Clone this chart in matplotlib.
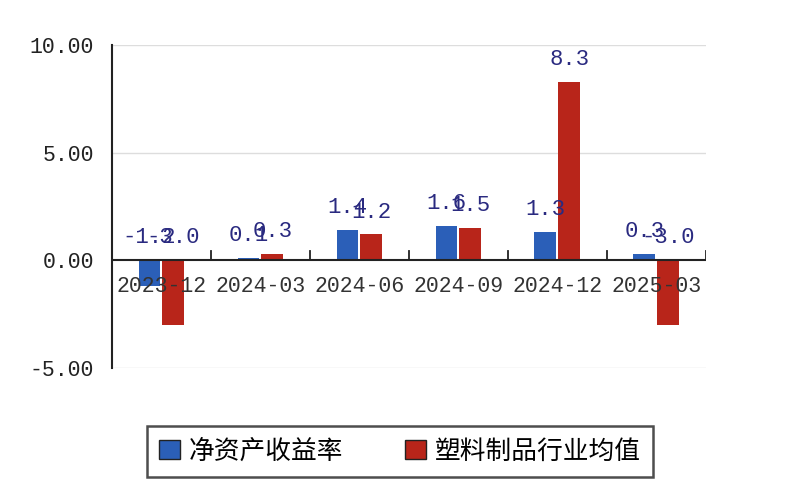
import numpy as np
import matplotlib.pyplot as plt
from matplotlib.patches import Patch

plt.rcParams['font.family'] = ['Noto Sans CJK SC', 'DejaVu Sans']

periods = ["2023-12", "2024-03", "2024-06", "2024-09", "2024-12", "2025-03"]
roe = [-1.2, 0.1, 1.4, 1.6, 1.3, 0.3]
industry_avg = [-3.0, 0.3, 1.2, 1.5, 8.3, -3.0]
series_names = ["净资产收益率", "塑料制品行业均值"]

blue = "#2b5fb8"
red = "#b8251a"
mono = "Liberation Mono"

fig = plt.figure(figsize=(8, 5), dpi=100)
ax = fig.add_axes([0.14, 0.264, 0.742, 0.646])

x = np.arange(len(periods))
w = 0.22
ax.bar(x - 0.12, roe, w, color=blue, zorder=3)
ax.bar(x + 0.12, industry_avg, w, color=red, zorder=3)

ax.set_xlim(-0.5, len(periods) - 0.5)
ax.set_ylim(-5, 10)
ax.set_yticks([-5, 0, 5, 10])
ax.set_yticklabels(["-5.00", "0.00", "5.00", "10.00"], family=mono, fontsize=15.5, color="#222222")
ax.tick_params(axis="y", length=0, pad=13)
ax.set_xticks([])

for y in [-5, 5, 10]:
    ax.axhline(y, color="#dddddd", lw=1, zorder=1)
ax.axhline(0, color="#222222", lw=1.5, zorder=4)

# boundary ticks on the zero line
for b in np.arange(0.5, len(periods) - 0.4, 1.0):
    ax.plot([b, b], [0, 0.45], color="#222222", lw=1.3, zorder=4)

for i, p in enumerate(periods):
    ax.text(i, -0.75, p, ha="center", va="top", family=mono, fontsize=15.5, color="#333333", zorder=5)

def label(xpos, v):
    base = max(v, 0)
    ax.text(xpos, base + 0.55, f"{v:.1f}", ha="center", va="bottom", family=mono,
            fontsize=16, color="#2a2a80", zorder=5)

for i in range(len(periods)):
    label(x[i] - 0.12, roe[i])
    label(x[i] + 0.12, industry_avg[i])

for s in ["top", "right", "bottom"]:
    ax.spines[s].set_visible(False)
ax.spines["left"].set_linewidth(1.5)
ax.spines["left"].set_color("#222222")

handles = [Patch(facecolor=blue, edgecolor="#222222"), Patch(facecolor=red, edgecolor="#222222")]
leg = fig.legend(handles, series_names, loc="center", bbox_to_anchor=(0.5, 0.097), ncol=2,
                 fontsize=18.5, frameon=True, fancybox=False, edgecolor="#222222",
                 handlelength=0.8, handleheight=0.8, handletextpad=0.35, columnspacing=2.4,
                 borderpad=0.5, borderaxespad=0)
leg.get_frame().set_linewidth(1.8)

fig.savefig("out.png", dpi=100)
